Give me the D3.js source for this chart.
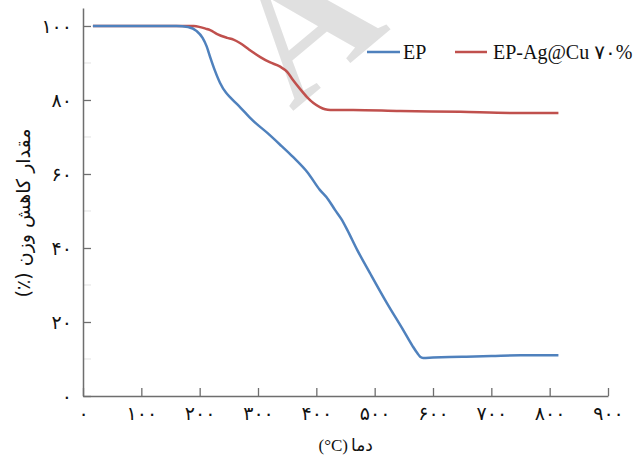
<!DOCTYPE html>
<html>
<head>
<meta charset="utf-8">
<script src="https://cdn.jsdelivr.net/npm/d3@7"></script>
<style>
  body { margin: 0; background: #fff; }
  svg { display: block; }
</style>
</head>
<body>
<div id="chart"></div>
<script>
// EP (blue)
const epTemp = [17, 100, 160, 180, 195, 205, 212, 218, 226, 235, 245, 252, 260, 269, 290, 316, 340, 360, 385, 406, 420, 432, 443, 453, 470, 492, 521, 549, 565, 573, 578, 583, 600, 650, 700, 750, 815];
const epWeight = [100, 100, 100, 99.7, 98.6, 96.8, 94.5, 91.6, 88, 84.6, 82, 80.8, 79.5, 78.1, 74.6, 71.1, 67.6, 64.6, 60.4, 55.7, 53.2, 50.3, 47.8, 44.9, 39.5, 33.2, 25.1, 17.8, 13.5, 11.6, 10.6, 10.3, 10.4, 10.6, 10.8, 11.0, 11.0];

// EP-Ag@Cu 70% (red)
const agTemp = [17, 100, 175, 190, 201, 210, 218, 230, 247, 258, 269, 285, 304, 320, 338, 350, 360, 372, 384, 395, 406, 415, 424, 463, 544, 647, 732, 815];
const agWeight = [100, 100, 100, 100, 99.7, 99.3, 98.9, 97.8, 96.8, 96.3, 95.4, 93.6, 91.6, 90.2, 89, 87.6, 85.4, 83, 80.8, 79.2, 78.1, 77.5, 77.3, 77.3, 77.0, 76.8, 76.5, 76.5];

const xTicks = [0, 100, 200, 300, 400, 500, 600, 700, 800, 900];
const yTicks = [0, 20, 40, 60, 80, 100];
const yMinor = [10, 30, 50, 70, 90];
const seriesNames = ["EP", "EP-Ag@Cu \u06F7\u06F0%"];
const xTitleWord = "\u062F\u0645\u0627";   // دما
const xTitleUnit = "(°C)";
const yTitle = "\u0645\u0642\u062F\u0627\u0631 \u06A9\u0627\u0647\u0634 \u0648\u0632\u0646 (\u066A)";

const W = 639, H = 456;
const fa = d => String(d).replace(/\d/g, c => "۰۱۲۳۴۵۶۷۸۹"[c]);

const svg = d3.select("#chart").append("svg")
  .attr("width", W)
  .attr("height", H);

// faint watermark letter
svg.append("text")
  .attr("transform", "translate(292,112) rotate(-40)")
  .attr("font-family", "Liberation Serif, serif")
  .attr("font-weight", "bold")
  .attr("font-size", 180)
  .attr("fill", "#e0e0e0")
  .text("A");

const x = d3.scaleLinear().domain([0, 900]).range([83, 608]);
const y = d3.scaleLinear().domain([0, 104.86]).range([396, 8]);

// minor y ticks
svg.append("g")
  .selectAll("line")
  .data(yMinor)
  .join("line")
  .attr("x1", 83).attr("x2", 91)
  .attr("y1", d => y(d)).attr("y2", d => y(d))
  .attr("stroke", "#e2e2e2");

const yAxis = svg.append("g")
  .attr("transform", "translate(83,0)")
  .call(d3.axisLeft(y).tickValues(yTicks).tickSize(-8).tickSizeOuter(0).tickPadding(11).tickFormat(fa));

const xAxis = svg.append("g")
  .attr("transform", "translate(0,396)")
  .call(d3.axisBottom(x).tickValues(xTicks).tickSize(-8).tickSizeOuter(0).tickPadding(11).tickFormat(fa));

[xAxis, yAxis].forEach(g => {
  g.select(".domain").attr("stroke", "#6e6e6e").attr("stroke-width", 1.5);
  g.selectAll(".tick line").attr("stroke", "#6e6e6e").attr("stroke-width", 1.3);
  g.selectAll(".tick text")
    .attr("font-family", "DejaVu Sans, sans-serif")
    .attr("font-size", 19)
    .attr("fill", "#111");
});

const line = d3.line()
  .x(d => x(d[0]))
  .y(d => y(d[1]))
  .curve(d3.curveMonotoneX);

svg.append("path")
  .datum(agTemp.map((t, i) => [t, agWeight[i]]))
  .attr("fill", "none")
  .attr("stroke", "#c0504d")
  .attr("stroke-width", 2.5)
  .attr("d", line);

svg.append("path")
  .datum(epTemp.map((t, i) => [t, epWeight[i]]))
  .attr("fill", "none")
  .attr("stroke", "#4f81bd")
  .attr("stroke-width", 2.5)
  .attr("d", line);

// legend
const legend = [
  { name: seriesNames[0], color: "#4f81bd", x1: 367, x2: 400, tx: 403 },
  { name: seriesNames[1], color: "#c0504d", x1: 455, x2: 487, tx: 493 }
];
legend.forEach(l => {
  svg.append("line")
    .attr("x1", l.x1).attr("x2", l.x2)
    .attr("y1", 52).attr("y2", 52)
    .attr("stroke", l.color)
    .attr("stroke-width", 2.5);
  svg.append("text")
    .attr("x", l.tx).attr("y", 59)
    .attr("font-family", "Liberation Serif, DejaVu Sans, serif")
    .attr("font-size", 20)
    .attr("fill", "#111")
    .text(l.name);
});

// x title: unit on the left, Persian word on the right
svg.append("text")
  .attr("x", 348).attr("y", 451)
  .attr("text-anchor", "end")
  .attr("font-family", "Liberation Serif, serif")
  .attr("font-size", 17)
  .attr("fill", "#111")
  .text(xTitleUnit);
svg.append("text")
  .attr("x", 351).attr("y", 451)
  .attr("text-anchor", "start")
  .attr("font-family", "DejaVu Sans, sans-serif")
  .attr("font-size", 17)
  .attr("fill", "#111")
  .text(xTitleWord);

svg.append("text")
  .attr("transform", "translate(30,213) rotate(-90)")
  .attr("text-anchor", "middle")
  .attr("direction", "rtl")
  .attr("font-family", "DejaVu Sans, sans-serif")
  .attr("font-size", 19)
  .attr("fill", "#111")
  .text(yTitle);
</script>
</body>
</html>
